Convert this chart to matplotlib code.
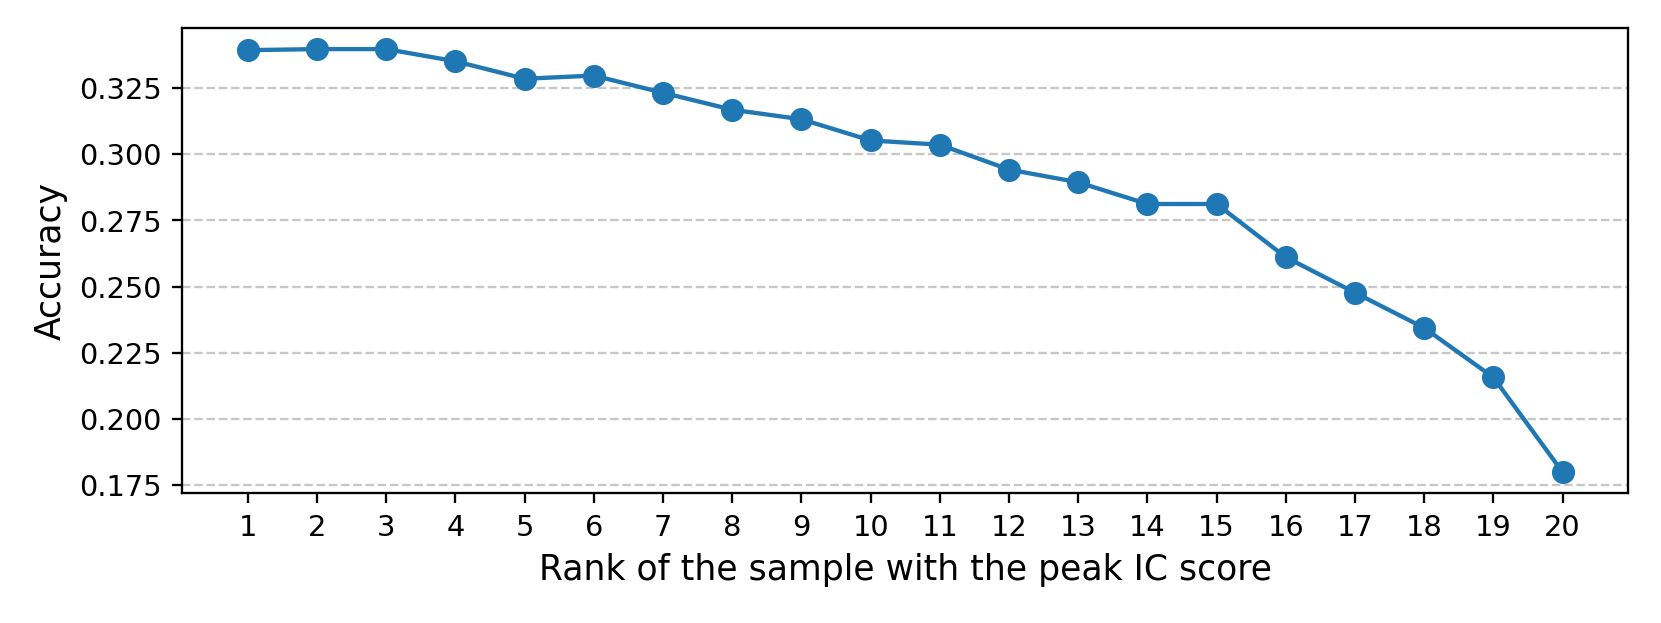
import matplotlib
matplotlib.use("Agg")
import matplotlib.pyplot as plt

# rank of the sample with the peak IC score
ranks = list(range(1, 21))
accuracy = [0.3393, 0.3397, 0.3397, 0.3351, 0.3285, 0.3297, 0.3232, 0.3168,
            0.3132, 0.3052, 0.3036, 0.2942, 0.2894, 0.2812, 0.2812, 0.2611,
            0.2477, 0.2344, 0.2157, 0.1799]


def main():
    fig, ax = plt.subplots(figsize=(8, 3))
    fig.subplots_adjust(left=0.1096, right=0.980, top=0.955, bottom=0.208)

    ax.plot(ranks, accuracy, marker='o', color='#1f77b4', linewidth=1.5, markersize=7)

    ax.set_xticks(ranks)
    ax.set_xlabel('Rank of the sample with the peak IC score', fontsize=12)
    ax.set_ylabel('Accuracy', fontsize=12)
    ax.tick_params(labelsize=10)
    ax.grid(axis='y', linestyle='--', alpha=0.7)

    fig.savefig('out.png', dpi=207.7)


if __name__ == '__main__':
    main()
